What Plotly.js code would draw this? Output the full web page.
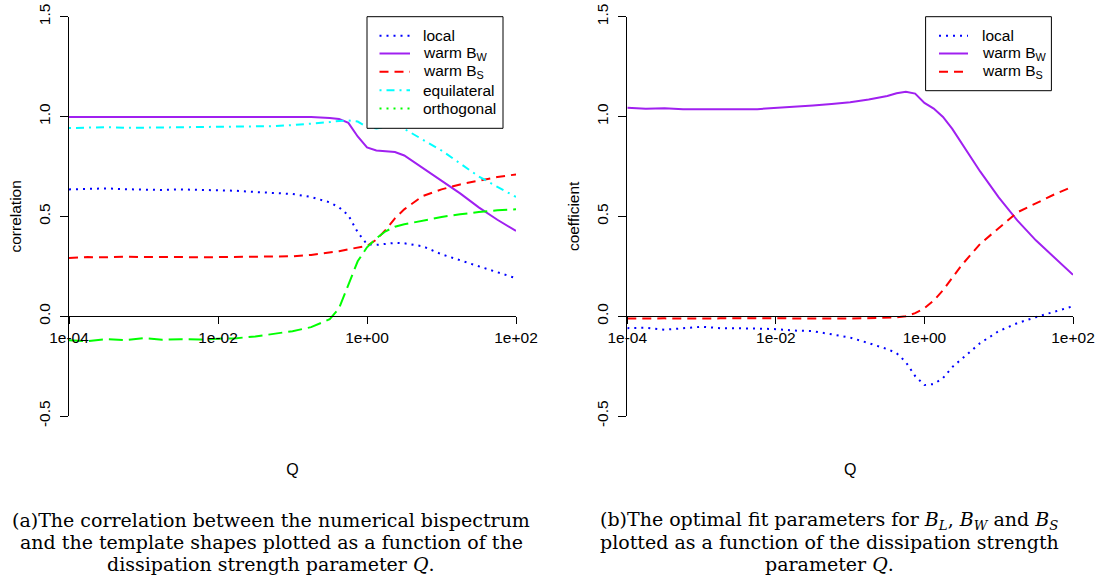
<!DOCTYPE html>
<html><head><meta charset="utf-8">
<script src="https://cdn.plot.ly/plotly-3.0.1.min.js"></script>
<style>html,body{margin:0;padding:0;background:#fff}#chart{width:1097px;height:577px}</style>
</head><body><div id="chart"></div>
<script>
// Dissipation strength parameter Q (shared x grid)
const Q = [1e-4, 1.778e-4, 3.162e-4, 5.623e-4, 1e-3, 1.778e-3, 3.162e-3, 5.623e-3, 1e-2, 1.778e-2, 3.162e-2, 5.623e-2, 0.1, 0.1778, 0.3162, 0.4217, 0.5623, 0.7499, 1, 1.334, 1.778, 2.371, 3.162, 5.623, 10, 17.78, 31.62, 56.23, 100];

// (a) correlation
const corrLocal = [0.635, 0.638, 0.640, 0.636, 0.634, 0.632, 0.635, 0.633, 0.632, 0.628, 0.622, 0.617, 0.612, 0.597, 0.570, 0.545, 0.505, 0.420, 0.360, 0.357, 0.362, 0.367, 0.365, 0.350, 0.310, 0.280, 0.248, 0.218, 0.190];
const corrWarmW = [0.998, 0.997, 0.998, 0.998, 0.998, 0.998, 0.998, 0.999, 0.999, 0.999, 0.999, 0.999, 0.998, 0.997, 0.993, 0.988, 0.968, 0.900, 0.845, 0.830, 0.826, 0.822, 0.805, 0.742, 0.680, 0.615, 0.545, 0.483, 0.427];
const corrWarmS = [0.292, 0.296, 0.295, 0.298, 0.296, 0.297, 0.296, 0.295, 0.296, 0.296, 0.297, 0.298, 0.300, 0.307, 0.318, 0.325, 0.335, 0.345, 0.352, 0.383, 0.432, 0.490, 0.535, 0.602, 0.635, 0.660, 0.680, 0.697, 0.710];
const corrEquil = [0.942, 0.945, 0.947, 0.943, 0.944, 0.946, 0.945, 0.946, 0.947, 0.948, 0.950, 0.952, 0.957, 0.963, 0.972, 0.978, 0.980, 0.975, 0.948, 0.940, 0.950, 0.958, 0.938, 0.885, 0.830, 0.765, 0.700, 0.648, 0.597];
const corrOrtho = [-0.120, -0.125, -0.115, -0.120, -0.110, -0.118, -0.115, -0.117, -0.113, -0.110, -0.102, -0.090, -0.075, -0.055, -0.015, 0.040, 0.160, 0.275, 0.345, 0.390, 0.425, 0.448, 0.460, 0.480, 0.497, 0.510, 0.522, 0.530, 0.535];

// (b) fit coefficients
const coefLocal = [-0.060, -0.058, -0.068, -0.060, -0.053, -0.060, -0.060, -0.062, -0.065, -0.072, -0.075, -0.090, -0.107, -0.135, -0.165, -0.185, -0.230, -0.300, -0.345, -0.340, -0.310, -0.255, -0.215, -0.135, -0.075, -0.035, -0.005, 0.022, 0.050];
const coefWarmW = [1.044, 1.039, 1.042, 1.037, 1.036, 1.038, 1.037, 1.037, 1.042, 1.048, 1.055, 1.063, 1.072, 1.085, 1.103, 1.117, 1.124, 1.115, 1.068, 1.040, 0.998, 0.938, 0.865, 0.725, 0.595, 0.480, 0.380, 0.295, 0.207];
const coefWarmS = [-0.012, -0.010, -0.011, -0.012, -0.010, -0.011, -0.010, -0.011, -0.012, -0.010, -0.011, -0.012, -0.012, -0.011, -0.010, -0.006, 0.000, 0.015, 0.040, 0.078, 0.130, 0.190, 0.255, 0.362, 0.440, 0.520, 0.565, 0.610, 0.650];

// tick labels
const xTickVals = [1e-4, 1e-2, 1, 100];
const xTickText = ['1e-04', '1e-02', '1e+00', '1e+02'];
const yTickVals = [-0.5, 0, 0.5, 1, 1.5];
const yTickText = ['-0.5', '0.0', '0.5', '1.0', '1.5'];

// legend labels
const legendA = ['local', 'warm B<sub>W</sub>', 'warm B<sub>S</sub>', 'equilateral', 'orthogonal'];
const legendB = ['local', 'warm B<sub>W</sub>', 'warm B<sub>S</sub>'];

const W = 1097, H = 577;
const px = v => v / W, py = v => 1 - v / H;
const sans = '"Liberation Sans", Arial, Helvetica, sans-serif';
const tfont = {family: sans, size: 15.5, color: '#000'};
const lfont = {family: sans, size: 15.5, color: '#000'};

const C = {blue: '#0000FF', purple: '#A020F0', red: '#FF0000', cyan: '#00FFFF', green: '#00FF00'};
const D = {dot: '2px,5px', dash: '9px,6px', dotdash: '2px,5px,8px,5px', longdash: '14px,6px'};
const LW = 2;

// style per series (curve dash, legend-sample dash)
const stA = [[C.blue, D.dot, D.dot], [C.purple, 'solid', 'solid'], [C.red, D.dash, D.dash], [C.cyan, D.dotdash, D.dotdash], [C.green, D.longdash, D.dot]];
const stB = stA.slice(0, 3);

function tr(x, y, name, color, dash, xa, ya) {
  return {x: x, y: y, name: name, type: 'scatter', mode: 'lines', xaxis: xa, yaxis: ya,
    line: {color: color, width: LW, dash: dash}, showlegend: false, hoverinfo: 'skip'};
}

const seriesA = [corrLocal, corrWarmW, corrWarmS, corrEquil, corrOrtho];
const seriesB = [coefLocal, coefWarmW, coefWarmS];
const data = [];
seriesA.forEach((s, i) => data.push(tr(Q, s, legendA[i], stA[i][0], stA[i][1], 'x', 'y')));
seriesB.forEach((s, i) => data.push(tr(Q, s, legendB[i], stB[i][0], stB[i][1], 'x2', 'y2')));

function xax(d, title) {
  return {type: 'log', domain: d, range: [-4, 2], anchor: 'free', position: py(316),
    showline: true, linecolor: '#000', linewidth: 1, ticks: 'outside', ticklen: 7, tickcolor: '#000', tickwidth: 1,
    tickvals: xTickVals, ticktext: xTickText, tickfont: tfont, showgrid: false, zeroline: false,
    title: {text: title, font: {family: sans, size: 16, color: '#000'}, standoff: 119}, automargin: false, fixedrange: true};
}
function yax(anchor, title) {
  return {domain: [py(416), py(16.7)], range: [-0.5, 1.5], anchor: anchor,
    showline: true, linecolor: '#000', linewidth: 1, ticks: 'outside', ticklen: 8, tickcolor: '#000', tickwidth: 1,
    tickvals: yTickVals, ticktext: yTickText, tickangle: -90, tickfont: tfont, showgrid: false, zeroline: false,
    ticklabelstandoff: 4,
    title: {text: title, font: tfont, standoff: 10}, automargin: false, fixedrange: true};
}

// manual legends (R style: box, sample line, label)
const shapes = [], annotations = [];
function legend(box, sx0, sx1, tx, rows, labels, styles) {
  shapes.push({type: 'rect', xref: 'paper', yref: 'paper', x0: px(box[0]), x1: px(box[1]), y0: py(box[2]), y1: py(box[3]),
    line: {color: '#000', width: 1}, fillcolor: '#fff', layer: 'above'});
  labels.forEach((lab, i) => {
    shapes.push({type: 'line', xref: 'paper', yref: 'paper', x0: px(sx0), x1: px(sx1), y0: py(rows[i]), y1: py(rows[i]),
      line: {color: styles[i][0], width: LW, dash: styles[i][2]}, layer: 'above'});
    annotations.push({text: lab, x: px(tx), y: py(rows[i]), xref: 'paper', yref: 'paper', xanchor: 'left', yanchor: 'middle',
      showarrow: false, font: lfont, borderpad: 0});
  });
}
const rows = [35.7, 53.5, 71.8, 90.2, 108.6];
legend([367, 503, 16.7, 128.3], 379.5, 410, 422, rows, legendA, stA);
legend([925.6, 1051.4, 16.7, 90.7], 939, 968, 980.5, rows, legendB, stB);

const serif = '"DejaVu Serif", "Liberation Serif", serif';
const cfont = {family: serif, size: 19, color: '#000'};
function cap(text, x, y) {
  annotations.push({text: text, x: px(x), y: py(y), xref: 'paper', yref: 'paper', xanchor: 'center', yanchor: 'middle', showarrow: false, font: cfont});
}
cap('(a)The correlation between the numerical bispectrum', 271, 520);
cap('and the template shapes plotted as a function of the', 271, 542);
cap('dissipation strength parameter <i>Q</i>.', 271, 564);
cap('(b)The optimal fit parameters for <i>B</i><sub><i>L</i></sub>, <i>B</i><sub><i>W</i></sub> and <i>B</i><sub><i>S</i></sub>', 829, 520);
cap('plotted as a function of the dissipation strength', 829, 542);
cap('parameter <i>Q</i>.', 829, 564);

const layout = {
  width: W, height: H, margin: {l: 0, r: 0, t: 0, b: 0}, paper_bgcolor: '#fff', plot_bgcolor: 'rgba(0,0,0,0)',
  showlegend: false,
  xaxis: xax([px(69), px(516)], 'Q'),
  yaxis: yax('x', 'correlation'),
  xaxis2: xax([px(627.3), px(1073)], 'Q'),
  yaxis2: yax('x2', 'coefficient'),
  shapes: shapes,
  annotations: annotations
};

Plotly.newPlot('chart', data, layout, {staticPlot: true, displayModeBar: false});
</script>
</body></html>
